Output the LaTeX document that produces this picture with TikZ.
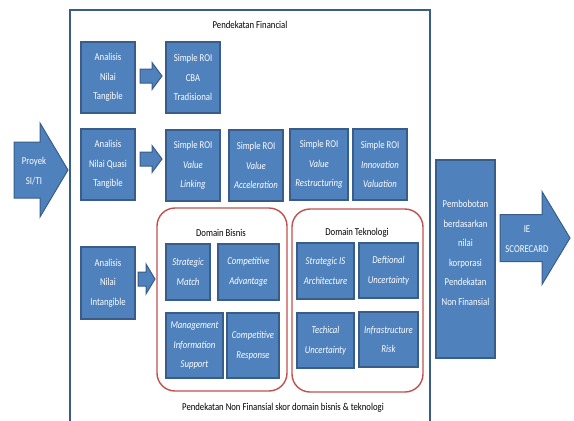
\documentclass[tikz,border=0pt]{standalone}
\usepackage{fontspec}
\setmainfont{Carlito}[FakeStretch=0.83]
\usetikzlibrary{positioning}

\definecolor{boxblue}{HTML}{4F81BD}
\definecolor{boxedge}{HTML}{385D8A}
\definecolor{domred}{HTML}{C0504D}

\tikzset{
  txt/.style={font=\fontsize{10.5}{19.5}\selectfont, align=center, inner sep=0pt},
  bluebox/.style={txt, rectangle, fill=boxblue, draw=boxedge, line width=1.4pt, text=white},
  domainbox/.style={rectangle, draw=domred, line width=1.4pt, rounded corners=18pt},
  fatarrow/.style={fill=boxblue, draw=boxedge, line width=1pt, line join=miter},
}

% block arrow: start x, tip x, centre y, half shaft, half head, head length
\newcommand{\fatarrowpath}[6]{%
  \filldraw[fatarrow] (#1,#3-#4) -- (#2-#6,#3-#4) -- (#2-#6,#3-#5) -- (#2,#3)
    -- (#2-#6,#3+#5) -- (#2-#6,#3+#4) -- (#1,#3+#4) -- cycle;}

\begin{document}
\begin{tikzpicture}[x=1pt, y=-1pt]
  \useasboundingbox (0,0) rectangle (574,421);

  % Frame
  \draw[boxedge, line width=1.4pt] (70,421) -- (70,10) -- (430,10) -- (430,421);
  \node[txt] (fintitle) at (250,25) {Pendekatan Financial};
  \node[txt] (nontitle) at (283,408) {Pendekatan Non Finansial skor domain bisnis \& teknologi};

  % Block arrows
  \fatarrowpath{14}{68}{170}{28}{47}{28}
  \node[txt, text=white] (proyek) at (34,171) {Proyek\\SI/TI};
  \fatarrowpath{500}{570}{238}{23.5}{46.5}{28}
  \node[txt, text=white] (ie) at (527,239) {IE\\SCORECARD};

  % Row 1
  \node[bluebox, minimum width=54pt, minimum height=71pt] (tangible) at (108,77.5) {Analisis\\Nilai\\Tangible};
  \node[bluebox, minimum width=54pt, minimum height=71pt] (cba) at (193,77.5) {Simple ROI\\CBA\\Tradisional};

  % Row 2
  \node[bluebox, minimum width=54pt, minimum height=71pt] (quasi) at (108,164.5) {Analisis\\Nilai Quasi\\Tangible};
  \node[bluebox, minimum width=54pt, minimum height=71pt] (linking) at (193,165.5) {Simple ROI\\\textit{Value}\\\textit{Linking}};
  \node[bluebox, minimum width=54pt, minimum height=71pt] (accel) at (256,165.5) {Simple ROI\\\textit{Value}\\\textit{Acceleration}};
  \node[bluebox, minimum width=58pt, minimum height=71pt] (restruct) at (319,164.5) {Simple ROI\\\textit{Value}\\\textit{Restructuring}};
  \node[bluebox, minimum width=54pt, minimum height=71pt] (innov) at (380,164.5) {Simple ROI\\\textit{Innovation}\\\textit{Valuation}};

  % Row 3
  \node[bluebox, minimum width=54pt, minimum height=72pt] (intangible) at (108,283) {Analisis\\Nilai\\Intangible};

  \node[domainbox, minimum width=130pt, minimum height=183pt] (bisnis) at (222,299.5) {};
  \node[txt] (bisnistitle) at (221,233) {Domain Bisnis};
  \node[bluebox, minimum width=44pt, minimum height=56pt] (match) at (188,272) {\textit{Strategic}\\\textit{Match}};
  \node[bluebox, minimum width=61pt, minimum height=56pt] (advantage) at (248.5,272) {\textit{Competitive}\\\textit{Advantage}};
  \node[bluebox, minimum width=57pt, minimum height=65pt] (mis) at (194.5,345.5) {\textit{Management}\\\textit{Information}\\\textit{Support}};
  \node[bluebox, minimum width=52pt, minimum height=65pt] (response) at (253,345.5) {\textit{Competitive}\\\textit{Response}};

  \node[domainbox, minimum width=131pt, minimum height=183pt] (teknologi) at (357.5,300.5) {};
  \node[txt] (teknotitle) at (357,233) {Domain Teknologi};
  \node[bluebox, minimum width=57pt, minimum height=56pt] (isarch) at (325.5,271) {\textit{Strategic IS}\\\textit{Architecture}};
  \node[bluebox, minimum width=59pt, minimum height=55pt] (deftional) at (388.5,270.5) {\textit{Deftional}\\\textit{Uncertainty}};
  \node[bluebox, minimum width=57pt, minimum height=55pt] (techical) at (325.5,340.5) {\textit{Techical}\\\textit{Uncertainty}};
  \node[bluebox, minimum width=59pt, minimum height=55pt] (infra) at (388.5,339.5) {\textit{Infrastructure}\\\textit{Risk}};

  % Weighting box
  \node[bluebox, minimum width=59pt, minimum height=198pt] (bobot) at (465.5,259) {};
  \node[txt, text=white] (bobottext) at (465.5,253) {Pembobotan\\berdasarkan\\nilai\\korporasi\\Pendekatan\\Non Finansial};

  % Small arrows
  \fatarrowpath{140}{162}{76}{7}{13.5}{10}
  \fatarrowpath{140}{162}{159}{7}{13.5}{10}
  \fatarrowpath{138}{155}{279}{7}{15}{9}
\end{tikzpicture}
\end{document}
